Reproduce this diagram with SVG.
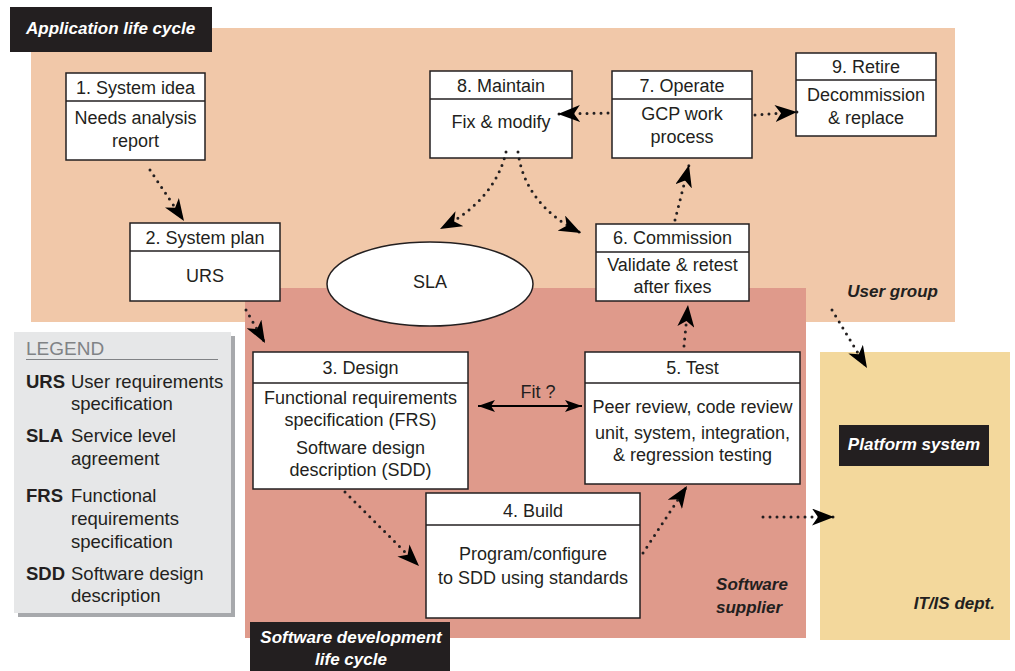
<svg xmlns="http://www.w3.org/2000/svg" width="1015" height="671" viewBox="0 0 1015 671">
<defs>
<style>
text{font-family:"Liberation Sans",Arial,sans-serif;fill:#231f20;font-size:18px}
.c{text-anchor:middle}
.lab{font-weight:bold;font-style:italic;font-size:17px}
.wl{font-weight:bold;font-style:italic;font-size:17px;fill:#fff}
.box{fill:#fff;stroke:#231f20;stroke-width:1.5}
.div{stroke:#231f20;stroke-width:1.5}
.dot{fill:none;stroke:#231f20;stroke-width:3;stroke-linecap:round;stroke-dasharray:0 7;marker-end:url(#ah)}
.lg{font-size:18.5px}
.lgb{font-size:18.5px;font-weight:bold}
</style>
<marker id="ah" markerUnits="userSpaceOnUse" markerWidth="23" markerHeight="17" refX="22" refY="8.5" orient="auto" viewBox="0 0 23 17">
<path d="M0,0 L22,8.5 L0,17 L6,8.5 z" fill="#000"/>
</marker>
<marker id="sa" markerUnits="userSpaceOnUse" markerWidth="18" markerHeight="12" refX="17" refY="6" orient="auto-start-reverse" viewBox="0 0 18 12">
<path d="M0,0 L17,6 L0,12 L4,6 z" fill="#000"/>
</marker>
</defs>
<rect width="1015" height="671" fill="#fff"/>
<g id="regions">
<rect x="31" y="28" width="924" height="294" fill="#f1c8a9"/>
<rect x="245" y="288" width="561" height="350" fill="#df9a8b"/>
<rect x="820" y="352" width="190" height="288" fill="#f3d89c"/>
<rect x="10" y="7" width="202" height="45" fill="#231f20"/>
<text x="26" y="34" class="wl">Application life cycle</text>
<rect x="250" y="622" width="200" height="49" fill="#231f20"/>
<text x="351" y="643" class="wl c">Software development</text>
<text x="351" y="665" class="wl c">life cycle</text>
<text x="938" y="297" class="lab" text-anchor="end">User group</text>
<text x="752" y="590" class="lab c">Software</text>
<text x="749" y="613" class="lab c">supplier</text>
<text x="995" y="609" class="lab" text-anchor="end">IT/IS dept.</text>
<rect x="839" y="425" width="150" height="41" fill="#231f20"/>
<text x="914" y="450" class="wl c">Platform system</text>
</g>
<g id="legend">
<rect x="18" y="336" width="217" height="281" fill="#a7a9ac"/>
<rect x="14" y="332" width="217" height="281" fill="#e6e7e8"/>
<text x="26" y="355" style="fill:#808285;font-size:19px">LEGEND</text>
<line x1="26" y1="359.5" x2="218" y2="359.5" stroke="#808285" stroke-width="1.2"/>
<text x="26" y="388" class="lgb">URS</text>
<text x="71" y="388" class="lg">User requirements</text>
<text x="71" y="410" class="lg">specification</text>
<text x="26" y="442" class="lgb">SLA</text>
<text x="71" y="442" class="lg">Service level</text>
<text x="71" y="465" class="lg">agreement</text>
<text x="26" y="502" class="lgb">FRS</text>
<text x="71" y="502" class="lg">Functional</text>
<text x="71" y="525" class="lg">requirements</text>
<text x="71" y="548" class="lg">specification</text>
<text x="26" y="580" class="lgb">SDD</text>
<text x="71" y="580" class="lg">Software design</text>
<text x="71" y="602" class="lg">description</text>
</g>
<g id="n1">
<rect x="66" y="73" width="139" height="87" class="box"/>
<line x1="66" y1="101" x2="205" y2="101" class="div"/>
<text x="135.5" y="94" class="c">1. System idea</text>
<text x="135.5" y="124" class="c">Needs analysis</text>
<text x="135.5" y="147" class="c">report</text>
</g>
<g id="n2">
<rect x="130" y="223" width="150" height="78" class="box"/>
<line x1="130" y1="251" x2="280" y2="251" class="div"/>
<text x="205" y="244" class="c">2. System plan</text>
<text x="205" y="282" class="c">URS</text>
</g>
<g id="sla">
<ellipse cx="430" cy="284" rx="103" ry="42" class="box"/>
<text x="430" y="288" class="c">SLA</text>
</g>
<g id="n8">
<rect x="430" y="71" width="142" height="87" class="box"/>
<line x1="430" y1="99" x2="572" y2="99" class="div"/>
<text x="501" y="92" class="c">8. Maintain</text>
<text x="501" y="128" class="c">Fix &amp; modify</text>
</g>
<g id="n7">
<rect x="612" y="71" width="140" height="87" class="box"/>
<line x1="612" y1="99" x2="752" y2="99" class="div"/>
<text x="682" y="92" class="c">7. Operate</text>
<text x="682" y="120" class="c">GCP work</text>
<text x="682" y="143" class="c">process</text>
</g>
<g id="n9">
<rect x="796" y="53" width="140" height="83" class="box"/>
<line x1="796" y1="80" x2="936" y2="80" class="div"/>
<text x="866" y="73" class="c">9. Retire</text>
<text x="866" y="101" class="c">Decommission</text>
<text x="866" y="124" class="c">&amp; replace</text>
</g>
<g id="n6">
<rect x="596" y="224" width="153" height="77" class="box"/>
<line x1="596" y1="252" x2="749" y2="252" class="div"/>
<text x="672.5" y="244" class="c">6. Commission</text>
<text x="672.5" y="271" class="c">Validate &amp; retest</text>
<text x="672.5" y="293" class="c">after fixes</text>
</g>
<g id="n3">
<rect x="253" y="352" width="215" height="137" class="box"/>
<line x1="253" y1="383" x2="468" y2="383" class="div"/>
<text x="360.5" y="374" class="c">3. Design</text>
<text x="360.5" y="404" class="c">Functional requirements</text>
<text x="360.5" y="426" class="c">specification (FRS)</text>
<text x="360.5" y="454" class="c">Software design</text>
<text x="360.5" y="476" class="c">description (SDD)</text>
</g>
<g id="n5">
<rect x="585" y="352" width="215" height="132" class="box"/>
<line x1="585" y1="383" x2="800" y2="383" class="div"/>
<text x="692.5" y="374" class="c">5. Test</text>
<text x="692.5" y="413" class="c">Peer review, code review</text>
<text x="692.5" y="439" class="c">unit, system, integration,</text>
<text x="692.5" y="461" class="c">&amp; regression testing</text>
</g>
<g id="n4">
<rect x="426" y="493" width="214" height="125" class="box"/>
<line x1="426" y1="525" x2="640" y2="525" class="div"/>
<text x="533" y="517" class="c">4. Build</text>
<text x="533" y="560" class="c">Program/configure</text>
<text x="533" y="584" class="c">to SDD using standards</text>
</g>
<g id="connectors">
<path d="M150,170 L184,221" class="dot"/>
<path d="M246,310 L265,343" class="dot"/>
<path d="M345,492 L419,566" class="dot"/>
<path d="M643,553 L687,486" class="dot"/>
<path d="M684,346 L688,305" class="dot"/>
<path d="M675,220 L689,165" class="dot"/>
<path d="M608,113 L558,114" class="dot"/>
<path d="M755,115 L797,112" class="dot"/>
<path d="M506,152 Q495,200 440,229" class="dot"/>
<path d="M518,152 Q525,205 581,233" class="dot"/>
<path d="M832,310 L867,368" class="dot"/>
<path d="M763,517 L834,517" class="dot"/>
<path d="M478,406 L582,406" fill="none" stroke="#000" stroke-width="1.8" marker-start="url(#sa)" marker-end="url(#sa)"/>
<text x="538" y="398" class="c">Fit ?</text>
</g>
</svg>
